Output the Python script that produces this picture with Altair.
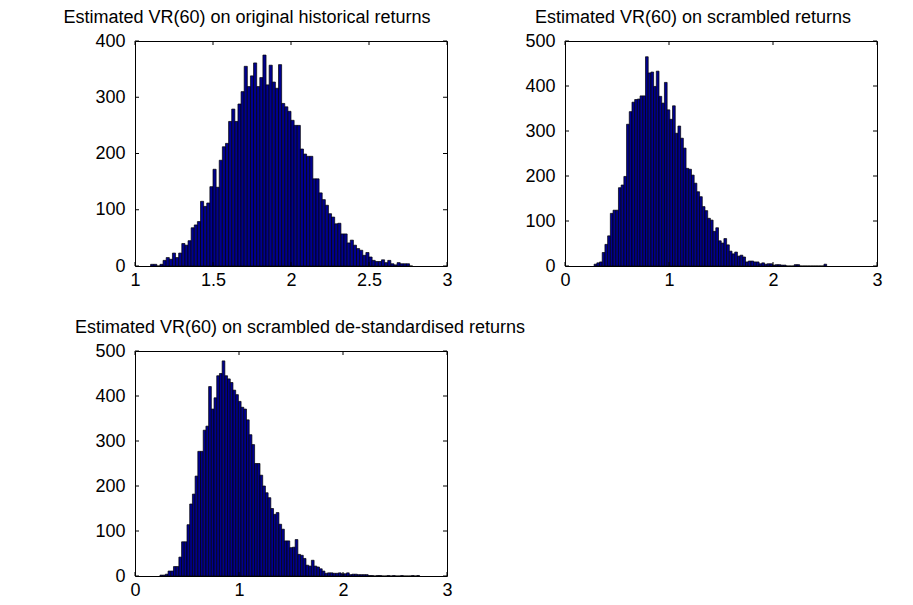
import altair as alt
import pandas as pd

# ---------------- data ----------------
# Panel 1: histogram of VR(60) on original historical returns
p1_start, p1_width = 1.10, 0.02
p1_counts = [3, 3, 0, 3, 10, 15, 12, 23, 15, 23, 40, 37, 45, 68, 73, 79, 115, 106, 112, 141,
             172, 140, 188, 212, 218, 257, 279, 257, 288, 310, 355, 319, 338, 361, 319, 335, 375, 322, 357, 327,
             316, 358, 289, 283, 275, 259, 250, 250, 208, 199, 195, 195, 155, 155, 130, 118, 108, 93, 87, 75,
             76, 57, 57, 41, 46, 37, 31, 28, 19, 24, 16, 10, 8, 8, 11, 6, 10, 4, 2, 6,
             4, 4, 4, 0]

# Panel 2: histogram of VR(60) on scrambled returns
p2_start, p2_width = 0.28, 0.026
p2_counts = [4, 7, 9, 30, 48, 67, 117, 124, 124, 174, 180, 199, 315, 343, 364, 370, 371, 378, 378, 465,
             429, 431, 399, 433, 377, 362, 408, 347, 326, 356, 295, 311, 284, 262, 217, 215, 202, 184, 165, 154,
             132, 123, 106, 102, 77, 85, 56, 51, 61, 47, 33, 27, 31, 22, 24, 20, 9, 11, 11, 9,
             9, 5, 7, 4, 5, 5, 2, 3, 3, 2, 2, 0, 0, 0, 3, 3, 0, 0, 0, 0,
             0, 0, 0, 0, 0, 4]

# Panel 3: histogram of VR(60) on scrambled de-standardised returns
p3_start, p3_width = 0.24, 0.026
p3_counts = [2, 2, 4, 11, 11, 21, 21, 42, 76, 76, 114, 160, 182, 222, 277, 277, 324, 333, 421, 371,
             396, 445, 450, 478, 445, 438, 430, 413, 403, 388, 375, 371, 347, 314, 292, 250, 250, 224, 200, 185,
             174, 150, 137, 141, 115, 104, 78, 78, 63, 64, 81, 48, 46, 39, 24, 22, 35, 22, 20, 16,
             11, 6, 7, 7, 6, 6, 7, 5, 5, 7, 3, 4, 4, 3, 3, 3, 3, 1, 1, 0,
             1, 1, 0, 0, 1, 0, 1, 0, 0, 1, 0, 0, 0, 1, 0, 1]

titles = [
    "Estimated VR(60) on original historical returns",
    "Estimated VR(60) on scrambled returns",
    "Estimated VR(60) on scrambled de-standardised returns",
]
x_ticks_1 = [1, 1.5, 2, 2.5, 3]
x_ticks_23 = [0, 1, 2, 3]
y_ticks_1 = [0, 100, 200, 300, 400]
y_ticks_23 = [0, 100, 200, 300, 400, 500]

# ---------------- styling ----------------
W, H = 312, 225
TICK = 4
FONT = "Liberation Sans"
BAR_FILL = "#00008F"


def bins_frame(start, width, counts):
    rows = []
    for i, c in enumerate(counts):
        lo = round(start + i * width, 4)
        rows.append({"lo": lo, "hi": round(lo + width, 4), "count": c})
    return pd.DataFrame(rows)


def panel(df, xdom, xticks, ydom, yticks, title, dx):
    xs = alt.Scale(domain=xdom, nice=False, zero=False)
    ys = alt.Scale(domain=ydom, nice=False, zero=False)
    xaxis = alt.Axis(values=xticks, ticks=False, domain=False, grid=False, title=None,
                     labelFont=FONT, labelFontSize=18, labelColor="black", labelPadding=5,
                     labelFlush=False, labelOverlap=False, format=".4~g")
    yaxis = alt.Axis(values=yticks, ticks=False, domain=False, grid=False, title=None,
                     labelFont=FONT, labelFontSize=18, labelColor="black", labelPadding=10,
                     labelFlush=False, labelOverlap=False, format=".4~g")
    bars = alt.Chart(df).mark_rect(fill=BAR_FILL, stroke="black", strokeWidth=0.7).encode(
        x=alt.X("lo:Q", scale=xs, axis=xaxis),
        x2="hi:Q",
        y=alt.Y("count:Q", scale=ys, axis=yaxis),
        y2=alt.datum(0),
    )
    xt = pd.DataFrame({"lo": xticks})
    yt = pd.DataFrame({"count": yticks})
    x_bottom = alt.Chart(xt).mark_rule(color="black", strokeWidth=1).encode(
        x=alt.X("lo:Q", scale=xs, axis=xaxis), y=alt.value(H), y2=alt.value(H - TICK))
    x_top = alt.Chart(xt).mark_rule(color="black", strokeWidth=1).encode(
        x=alt.X("lo:Q", scale=xs, axis=xaxis), y=alt.value(0), y2=alt.value(TICK))
    y_left = alt.Chart(yt).mark_rule(color="black", strokeWidth=1).encode(
        y=alt.Y("count:Q", scale=ys, axis=yaxis), x=alt.value(0), x2=alt.value(TICK))
    y_right = alt.Chart(yt).mark_rule(color="black", strokeWidth=1).encode(
        y=alt.Y("count:Q", scale=ys, axis=yaxis), x=alt.value(W - TICK), x2=alt.value(W))
    return alt.layer(bars, x_bottom, x_top, y_left, y_right).properties(
        width=W, height=H,
        title=alt.TitleParams(text=title, font=FONT, fontSize=18, fontWeight="normal",
                              color="black", anchor="middle", frame="group", dx=dx,
                              offset=-9, baseline="alphabetic"),
    )


p1 = panel(bins_frame(p1_start, p1_width, p1_counts), [1, 3], x_ticks_1, [0, 400], y_ticks_1,
           titles[0], -44)
p2 = panel(bins_frame(p2_start, p2_width, p2_counts), [0, 3], x_ticks_23, [0, 500], y_ticks_23,
           titles[1], -28)
p3 = panel(bins_frame(p3_start, p3_width, p3_counts), [0, 3], x_ticks_23, [0, 500], y_ticks_23,
           titles[2], 9)

chart = alt.concat(p1, p2, p3, columns=2, spacing={"row": 85, "column": 118}, bounds="flush").properties(
    padding={"left": 54, "top": 0, "right": 0, "bottom": 0},
    background="white",
).configure_view(stroke="black", strokeWidth=1)

chart.save("out.html", embed_options={"renderer": "svg", "actions": False})
